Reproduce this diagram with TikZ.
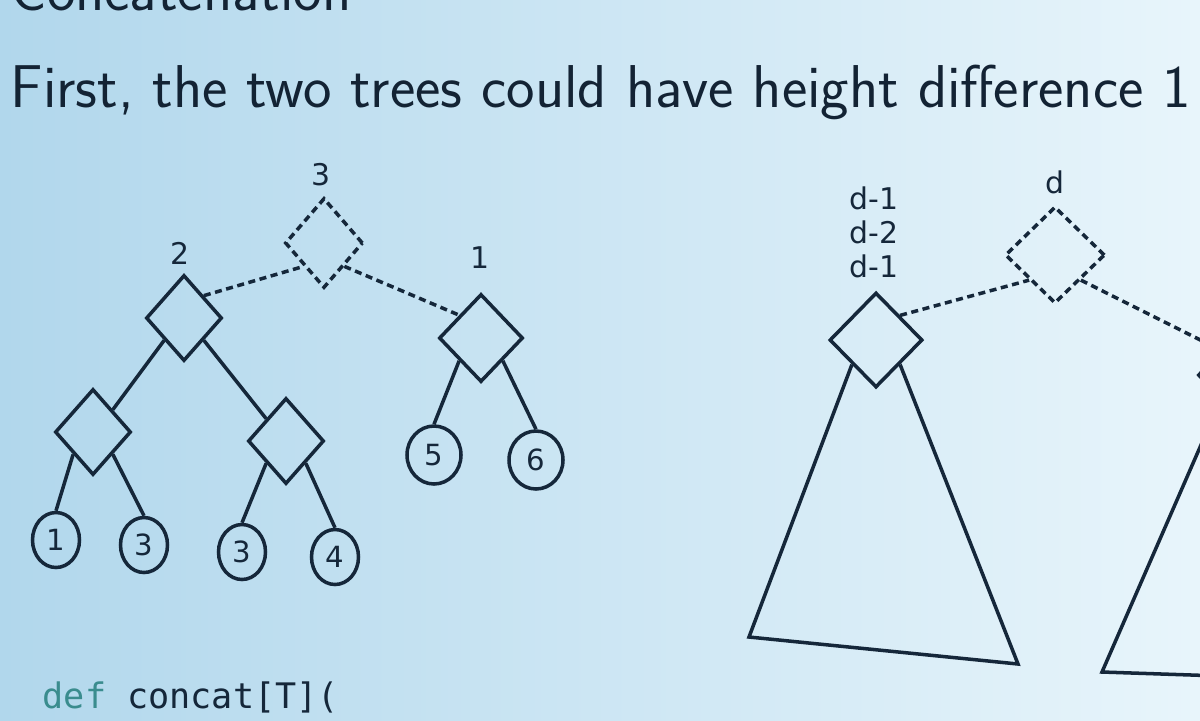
\documentclass[tikz,border=0pt]{standalone}
\usepackage{fontspec}
\newfontfamily\lblfont{DejaVu Sans}
\newfontfamily\codefont{DejaVu Sans Mono}
\usetikzlibrary{shapes.geometric,positioning}
\definecolor{ink}{HTML}{15273A}
\definecolor{bgL}{HTML}{B1D7EC}
\definecolor{bgM}{HTML}{D2EAF6}
\definecolor{bgR}{HTML}{E8F5FB}
\definecolor{kw}{HTML}{3A8C8E}
\tikzset{
  inner/.style={diamond, draw=ink, line width=1pt, minimum width=7.6mm, minimum height=8.6mm, inner sep=0pt},
  ghost/.style={inner, dash pattern=on 2pt off 1.3pt},
  leaf/.style={ellipse, draw=ink, line width=1pt, minimum width=4.7mm, minimum height=5.5mm, inner sep=0pt,
    font=\lblfont\fontsize{8.3}{9}\selectfont, text=ink},
  lbl/.style={font=\lblfont\fontsize{8.5}{9.7}\selectfont, text=ink, inner sep=0pt, align=center},
  edge/.style={draw=ink, line width=1pt},
  link/.style={edge, dash pattern=on 2pt off 1.3pt},
}
\begin{document}
\begin{tikzpicture}[x=0.1mm, y=-0.1mm]
  \useasboundingbox (0,0) rectangle (1200,720);
  \clip (0,0) rectangle (1200,720);
  \shade[left color=bgL, middle color=bgM, right color=bgR] (0,0) rectangle (1200,720);
  % Slide text
  \node[anchor=base west, inner sep=0pt, text=ink!90!black, font=\sffamily\fontsize{17.2}{20}\selectfont] (frametitle) at (10,10) {Concatenation};
  \node[anchor=base west, inner sep=0pt, text=ink!90!black, font=\sffamily\fontsize{17.2}{20}\selectfont] (title) at (10,107) {First, the two trees could have height difference 1};
  % Left tree
  \node[ghost, minimum width=7.8mm, minimum height=9mm] (s3) at (324,243) {};
  \node[inner] (a) at (184,318) {};
  \node[inner, minimum width=8.4mm, minimum height=8.8mm] (b) at (481,338) {};
  \node[inner] (c) at (93,432) {};
  \node[inner] (d) at (286,441) {};
  \node[lbl] (l3) at (321,175) {3};
  \node[lbl] (l2) at (180,253) {2};
  \node[lbl] (l1) at (480,258) {1};
  \node[leaf] (v1) at (56,540) {1};
  \node[leaf] (v3) at (144,545) {3};
  \node[leaf] (w3) at (242,552) {3};
  \node[leaf] (w4) at (335,557) {4};
  \node[leaf, minimum width=5.4mm, minimum height=5.8mm] (w5) at (434,455) {5};
  \node[leaf, minimum width=5.4mm, minimum height=5.8mm] (w6) at (536,460) {6};
  \draw[link] (a.north east) -- (s3.south west);
  \draw[link] (s3.south east) -- (b.north west);
  \draw[edge] (a.south west) -- (c.north east);
  \draw[edge] (a.south east) -- (d.north west);
  \draw[edge] (c.south west) -- (v1.north);
  \draw[edge] (c.south east) -- (v3.north);
  \draw[edge] (d.south west) -- (w3.north);
  \draw[edge] (d.south east) -- (w4.north);
  \draw[edge] (b.south west) -- (w5.north);
  \draw[edge] (b.south east) -- (w6.north);
  % Right trees
  \node[ghost, minimum width=10mm, minimum height=9.7mm] (r) at (1055,255) {};
  \node[inner, minimum width=9.3mm, minimum height=9.5mm] (e) at (876,340) {};
  \node[inner, minimum width=9.4mm, minimum height=9.6mm] (f) at (1245,375) {};
  \node[lbl] (ld) at (1055,182) {d};
  \node[lbl] (lds) at (874,232) {d-1\\d-2\\d-1};
  \coordinate (tl) at (749,637);
  \coordinate (tr) at (1018,664);
  \coordinate (ftl) at (1102,672);
  \coordinate (ftr) at (1400,682);
  \draw[link] (e.north east) -- (r.south west);
  \draw[link] (r.south east) -- (f.north west);
  \draw[edge] (e.south west) -- (tl) -- (tr) -- (e.south east);
  \draw[edge] (f.south west) -- (ftl) -- (ftr);
  % Code
  \node[anchor=base west, inner sep=0pt, font=\codefont\fontsize{10}{12}\selectfont, text=ink] (code) at (42,708) {\textcolor{kw}{def} concat[T](};
\end{tikzpicture}
\end{document}
